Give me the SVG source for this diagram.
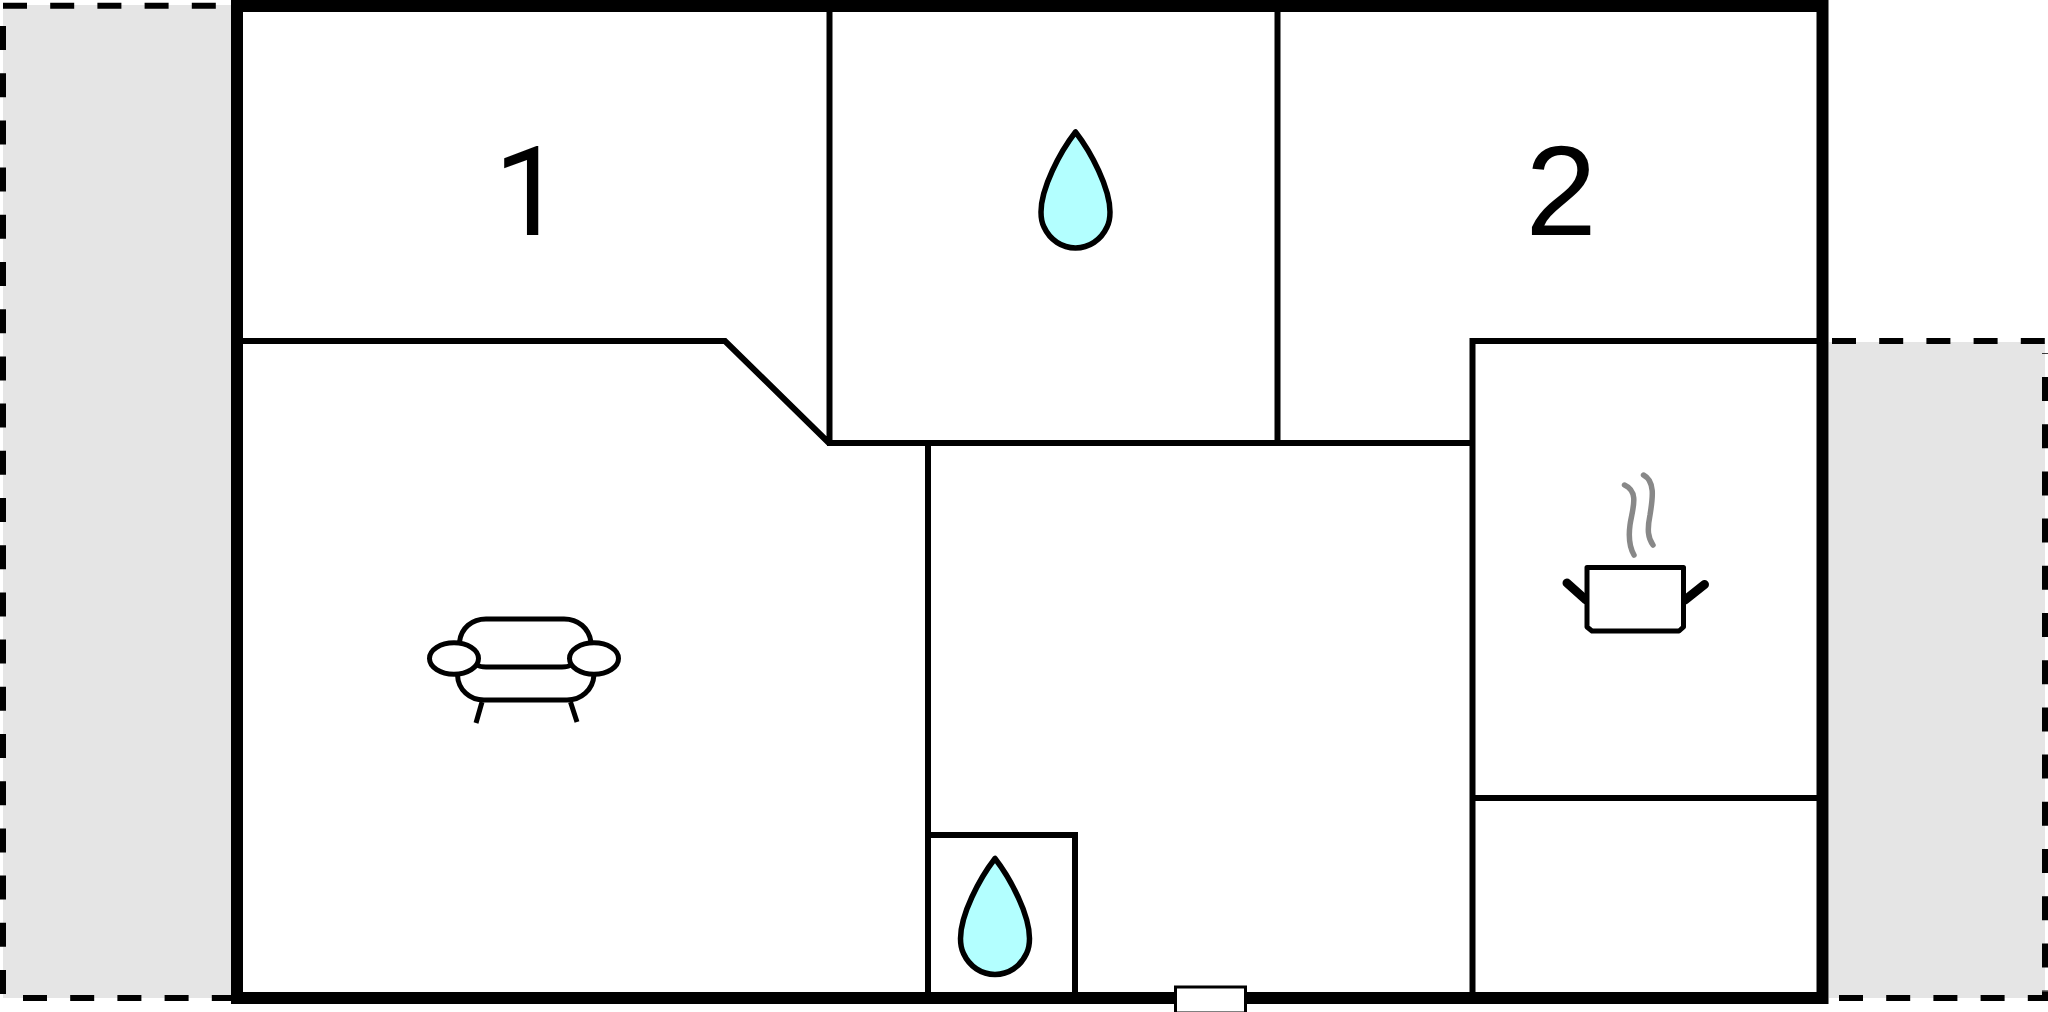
<svg xmlns="http://www.w3.org/2000/svg" width="2048" height="1012" viewBox="0 0 2048 1012">
<style>
.k{fill:none;stroke:#000;stroke-width:6}
.d{fill:none;stroke:#000;stroke-width:6;stroke-dasharray:24 23.2}
.s{fill:none;stroke:#000;stroke-width:5;stroke-linejoin:round}
.e{fill:#fff;stroke:#000;stroke-width:5}
.drop{fill:#b3ffff;stroke:#000;stroke-width:5.500;stroke-linejoin:round}
.steam{fill:none;stroke:#888;stroke-width:5.500;stroke-linecap:round}
.handle{fill:none;stroke:#000;stroke-width:9;stroke-linecap:round}
.num{fill:#000;text-anchor:middle}
</style>
<defs>
<path id="dropShape" class="drop" d="M1075.500,132 C1060,152 1041,188 1041,212 C1041,218 1042,223 1044,227 C1050,240 1062,248 1075.500,248 C1089,248 1101,240 1107,227 C1109,223 1110,218 1110,212 C1110,188 1091,152 1075.500,132Z"/>
</defs>
<rect width="2048" height="1012" fill="#fff"/>
<g id="terrace-left">
<rect x="3" y="5" width="228" height="993" fill="#e5e5e5"/>
<path class="d" d="M3,5.700H231"/>
<path class="d" d="M3,26V995"/>
<path class="d" d="M23,998H231"/>
</g>
<g id="terrace-right">
<rect x="1829" y="342" width="216" height="656" fill="#e5e5e5"/>
<path class="d" d="M1832,341H2045V353"/>
<path class="d" stroke-dashoffset="-24" d="M2045,353V991"/>
<path class="d" d="M1839,998H2045V991"/>
</g>
<g id="walls">
<path class="k" d="M237,341H725L829,443M829.500,6V443M827,443H1472M928,443V998M1277.500,6V443M1472.500,998V341H1822M1472,798H1822M928,835H1075V998"/>
<rect x="237" y="6" width="1585.500" height="992" fill="none" stroke="#000" stroke-width="12"/>
</g>
<g id="door"><rect x="1175.500" y="987" width="70" height="26" fill="#fff" stroke="#000" stroke-width="3"/></g>
<g id="label-1"><text class="num" x="529" y="235" font-family="Roboto,'Liberation Sans',sans-serif" font-size="125">1</text></g>
<g id="label-2"><text class="num" x="1561" y="235" font-family="'Liberation Sans',Arial,sans-serif" font-size="128">2</text></g>
<g id="bath-1"><use href="#dropShape"/></g>
<g id="bath-2"><use href="#dropShape" transform="translate(-80.5,726.5)"/></g>
<g id="sofa">
<path class="s" d="M459.500,642C461,628 472,619 486,619H564C578,619 589,628 591,642"/>
<path class="s" d="M477,665C480,667 482,667 486,667H562C566,667 568,667 571,665"/>
<path class="s" d="M457.500,675C458,690 470,700 484,700H567C581,700 593,690 594,675"/>
<path class="s" d="M482,702L476,723M570.500,702L577,722"/>
<ellipse class="e" cx="454" cy="658.500" rx="24.500" ry="15.700"/>
<ellipse class="e" cx="594" cy="658.500" rx="24.500" ry="15.700"/>
</g>
<g id="pot">
<path class="handle" d="M1567,583L1586,600"/>
<path class="handle" d="M1704.500,584.500L1685,600"/>
<path class="s" fill="#fff" style="fill:#fff" d="M1587,567.500H1683.500V627L1679,631H1592L1587,627Z"/>
<path class="steam" d="M1624.500,485C1640,492 1632,510 1630,525C1628,540 1630,548 1634,555"/>
<path class="steam" d="M1643.500,475C1655,481 1653,497 1650,515C1647,530 1648,538 1653,545"/>
</g>
</svg>
